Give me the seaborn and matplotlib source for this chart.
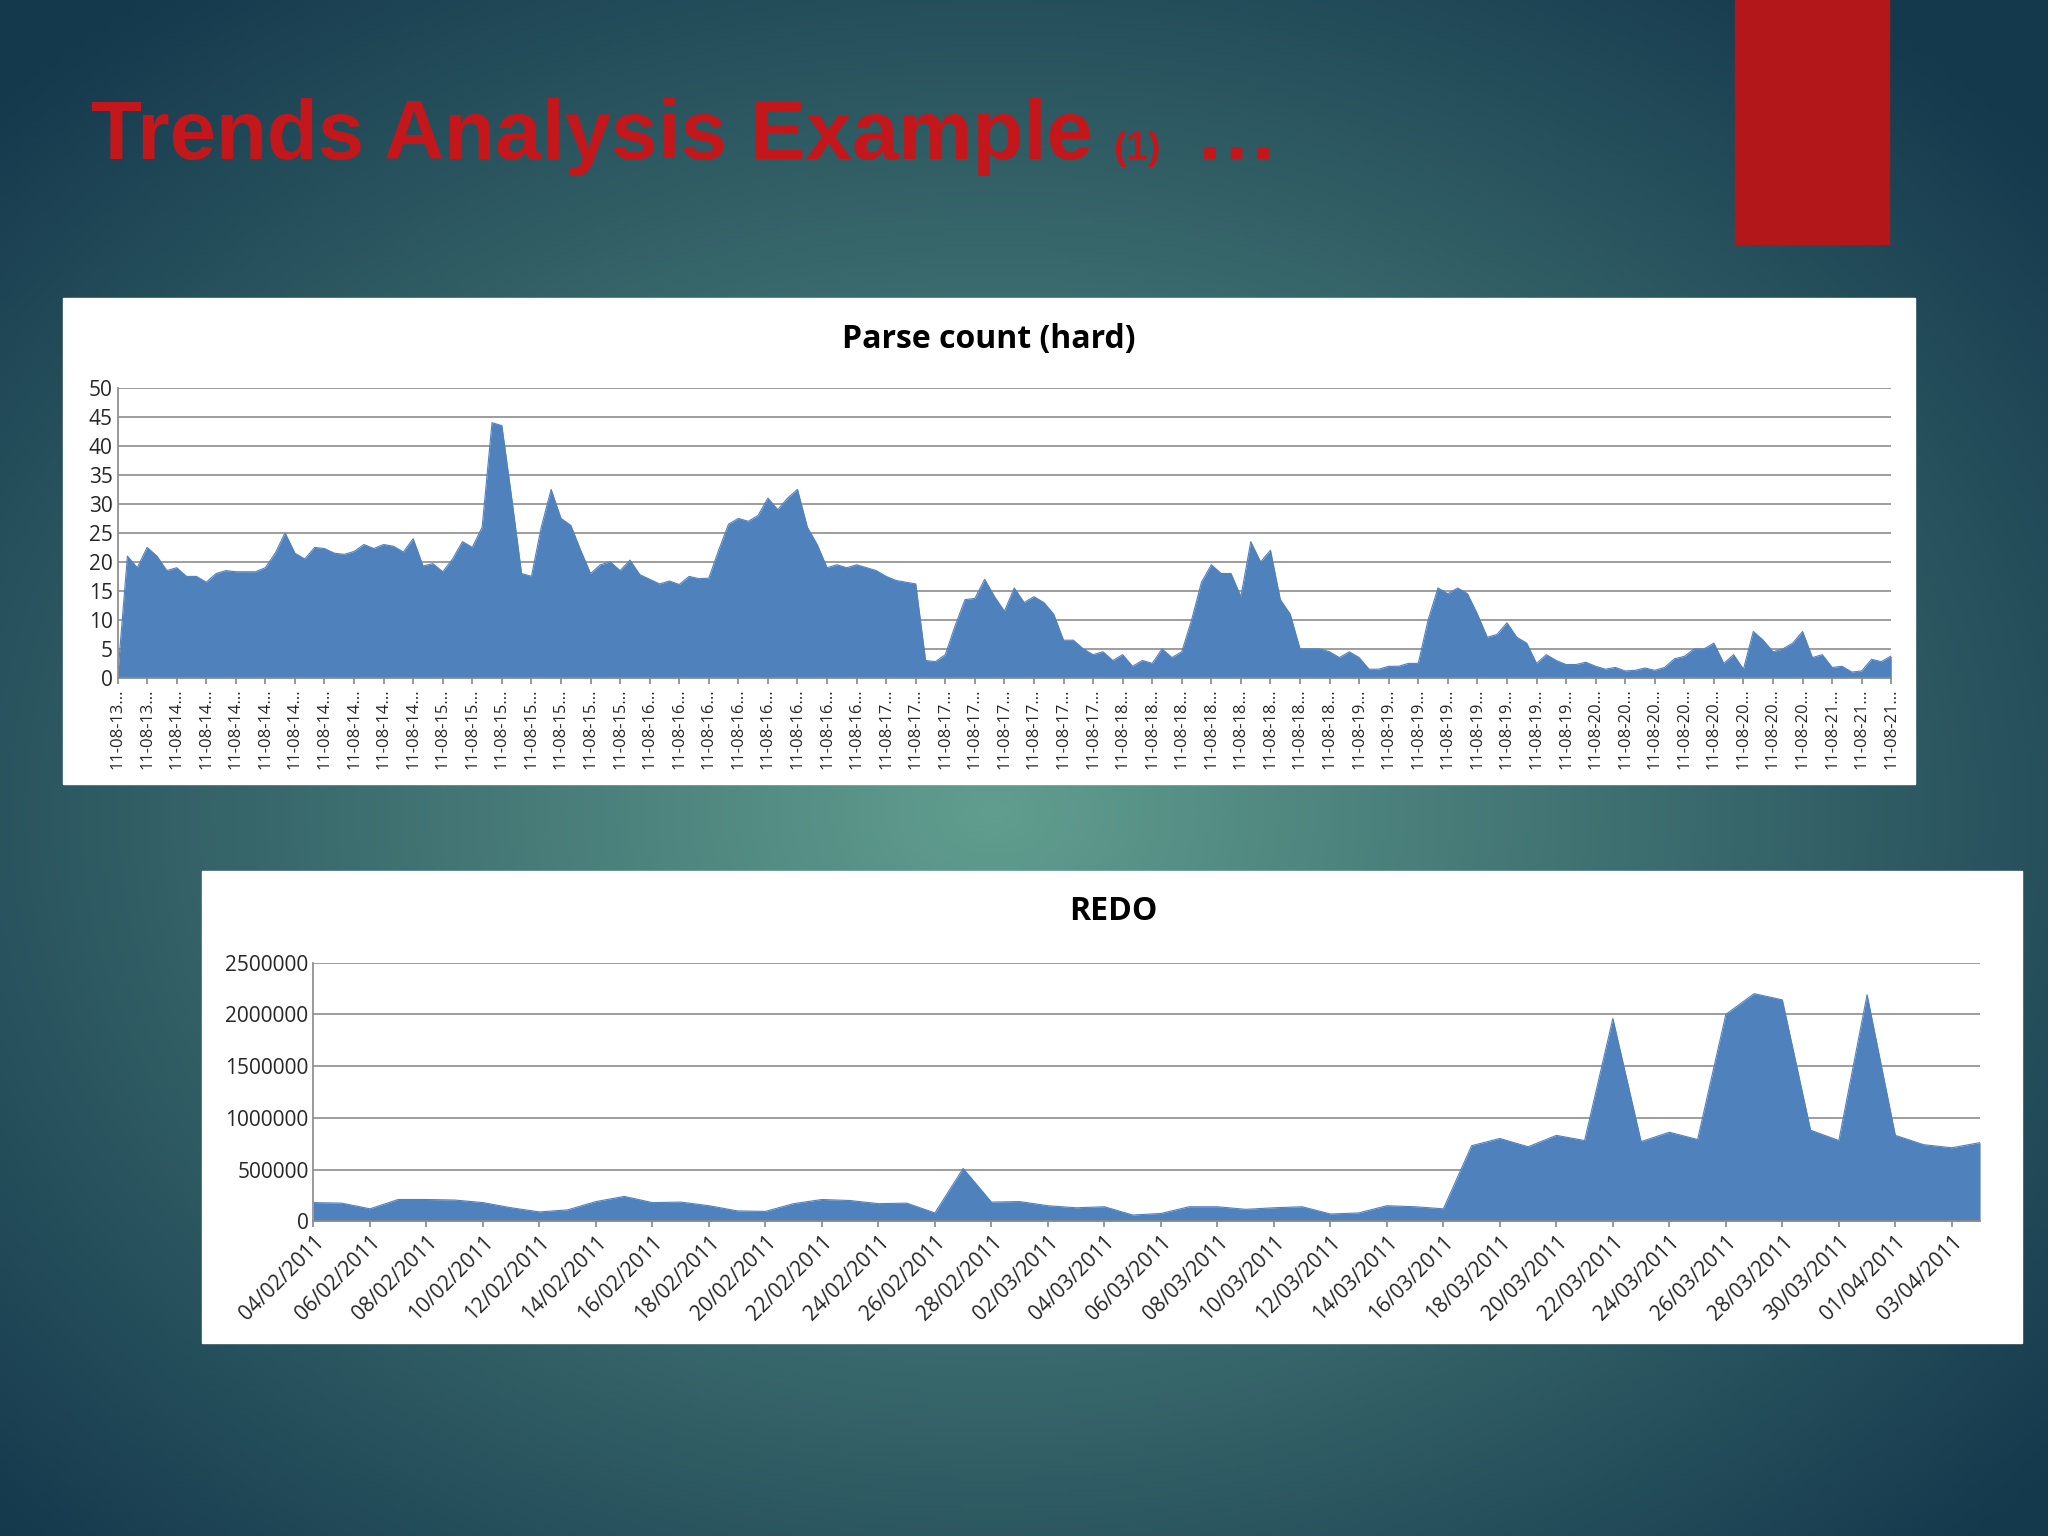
import numpy as np
import matplotlib
matplotlib.use("Agg")
import matplotlib.pyplot as plt
import seaborn as sns
import pandas as pd
from matplotlib.patches import Rectangle

sns.set_theme(style="white")
plt.rcParams['font.family'] = ['Open Sans', 'DejaVu Sans']

parse_values = [0, 21, 19, 22.5, 21, 18.5, 19, 17.5, 17.5, 16.5, 18, 18.5, 18.3, 18.3, 18.3, 19, 21.5, 25,
    21.5, 20.5, 22.5, 22.3, 21.5, 21.3, 21.8, 23, 22.3, 23, 22.7, 21.7, 24, 19.3, 19.7, 18.3, 20.5, 23.5,
    22.5, 26, 44, 43.5, 31, 18, 17.5, 26, 32.5, 27.5, 26.3, 22, 18, 19.5, 20, 18.5, 20.3, 17.8, 17, 16.2,
    16.7, 16.1, 17.5, 17.1, 17.2, 22, 26.5, 27.5, 27, 28, 31, 29, 31, 32.5, 26, 23, 19, 19.5, 19, 19.5, 19,
    18.5, 17.5, 16.8, 16.5, 16.2, 3, 2.8, 4, 9, 13.5, 13.7, 17, 14, 11.5, 15.5, 13, 14, 13, 11, 6.5, 6.5,
    5, 4, 4.5, 3, 4, 2, 3, 2.5, 5, 3.5, 4.5, 10, 16.5, 19.5, 18, 18, 14, 23.5, 20, 22, 13.5, 11, 5, 5, 5,
    4.5, 3.5, 4.5, 3.5, 1.5, 1.5, 2, 2, 2.5, 2.5, 10, 15.5, 14.5, 15.5, 14.5, 11, 7, 7.5, 9.5, 7, 6, 2.5,
    4, 3, 2.3, 2.3, 2.7, 2, 1.5, 1.8, 1.2, 1.3, 1.7, 1.3, 1.8, 3.3, 3.7, 5, 5, 6, 2.5, 4, 1.5, 8, 6.5, 4.5,
    5, 6, 8, 3.5, 4, 1.8, 2, 1, 1.2, 3.2, 2.8, 3.8]
parse_days = ["13"] * 2 + ["14"] * 9 + ["15"] * 7 + ["16"] * 8 + ["17"] * 8 + ["18"] * 8 + ["19"] * 8 + ["20"] * 8 + ["21"] * 3
parse_ticklabels = ["11-08-" + d + "..." for d in parse_days]

redo_dates = pd.date_range("2011-02-04", "2011-04-04", freq="D")
redo_values = [180e3, 175e3, 120e3, 210e3, 210e3, 205e3, 180e3, 130e3, 90e3, 110e3, 190e3, 240e3, 180e3,
    185e3, 150e3, 100e3, 95e3, 170e3, 210e3, 200e3, 170e3, 175e3, 80e3, 510e3, 185e3,
    190e3, 150e3, 130e3, 140e3, 60e3, 75e3, 140e3, 140e3, 115e3, 130e3, 140e3, 70e3, 80e3, 150e3, 140e3,
    120e3, 730e3, 800e3, 720e3, 830e3, 780e3, 1960e3, 770e3, 860e3, 790e3, 2000e3, 2200e3, 2140e3, 880e3,
    780e3, 2190e3,
    830e3, 740e3, 710e3, 760e3]

W, H = 1568, 1176   # layout coordinate space (scaled to 2048x1536 output)
fig = plt.figure(figsize=(20.48, 15.36), dpi=100)

bg = fig.add_axes([0, 0, 1, 1])
yy, xx = np.mgrid[0:H:3, 0:W:3]
d = np.sqrt(((xx - 760) / 1050) ** 2 + ((yy - 620) / 800) ** 2)
d = np.clip(d, 0, 1)
c0 = np.array([0.38, 0.62, 0.56])
c1 = np.array([0.08, 0.22, 0.30])
img = c0[None, None, :] * (1 - d[..., None]) + c1[None, None, :] * d[..., None]
bg.imshow(img, extent=[0, W, H, 0], aspect='auto')
bg.set_xlim(0, W); bg.set_ylim(H, 0); bg.axis('off')
bg.add_patch(Rectangle((1328, 0), 118, 187, color='#b3171a'))
bg.add_patch(Rectangle((48, 228), 1418, 372, color='white'))
bg.add_patch(Rectangle((155, 667), 1393, 361, color='white'))
bg.text(70, 122, "Trends Analysis Example", color='#c3171b', fontsize=60, fontweight='bold',
        family=['Liberation Sans'], va='baseline')
bg.text(852, 122, "(1)", color='#c3171b', fontsize=28, fontweight='bold', family=['Liberation Sans'], va='baseline')
bg.text(915, 122, "…", color='#c3171b', fontsize=60, fontweight='bold', family=['Liberation Sans'], va='baseline')

fig.text(757 / W, 1 - 260 / H, "Parse count (hard)", fontsize=23, fontweight='bold', ha='center', va='center', color='black')
fig.text(852 / W, 1 - 698 / H, "REDO", fontsize=23, fontweight='bold', ha='center', va='center', color='black')

blue = '#4f81bd'

def fa(x0, y0, x1, y1):
    return fig.add_axes([x0 / W, 1 - y1 / H, (x1 - x0) / W, (y1 - y0) / H])

ax1 = fa(90, 297, 1448, 519)
n = len(parse_values)
xs = np.arange(n)
sns.lineplot(x=xs, y=parse_values, ax=ax1, color=blue, linewidth=0.8)
ax1.fill_between(xs, parse_values, color=blue, linewidth=0)
ax1.set_xlim(0, n - 1); ax1.set_ylim(0, 50)
ax1.set_yticks(range(0, 51, 5))
ax1.yaxis.grid(True, color='#8c8c8c', linewidth=1.2)
ax1.set_axisbelow(True)
tpos = np.linspace(0, n - 1, len(parse_ticklabels))
ax1.set_xticks(tpos)
ax1.set_xticklabels(parse_ticklabels, rotation=90, fontsize=12)
ax1.tick_params(axis='y', labelsize=15, length=0)
ax1.tick_params(axis='x', length=4, color='#8c8c8c', bottom=True)
for s in ['top', 'right']:
    ax1.spines[s].set_visible(False)
for s in ['left', 'bottom']:
    ax1.spines[s].set_color('#8c8c8c')
ax1.set_facecolor('white')

ax2 = fa(240, 737, 1516, 935)
m = len(redo_values)
xr = np.arange(m)
sns.lineplot(x=xr, y=redo_values, ax=ax2, color=blue, linewidth=0.8)
ax2.fill_between(xr, redo_values, color=blue, linewidth=0)
ax2.set_xlim(0, m - 1); ax2.set_ylim(0, 2500000)
ax2.set_yticks(range(0, 2500001, 500000))
ax2.set_yticklabels([str(v) for v in range(0, 2500001, 500000)])
ax2.yaxis.grid(True, color='#8c8c8c', linewidth=1.2)
ax2.set_axisbelow(True)
ax2.set_xticks(xr[::2])
ax2.set_xticklabels([d.strftime("%d/%m/%Y") for d in redo_dates[::2]], rotation=45, ha='right',
                    rotation_mode='anchor', fontsize=15)
ax2.tick_params(axis='y', labelsize=15, length=0)
ax2.tick_params(axis='x', length=4, color='#8c8c8c', bottom=True)
for s in ['top', 'right']:
    ax2.spines[s].set_visible(False)
for s in ['left', 'bottom']:
    ax2.spines[s].set_color('#8c8c8c')
ax2.set_facecolor('white')

fig.savefig("out.png", dpi=100)
